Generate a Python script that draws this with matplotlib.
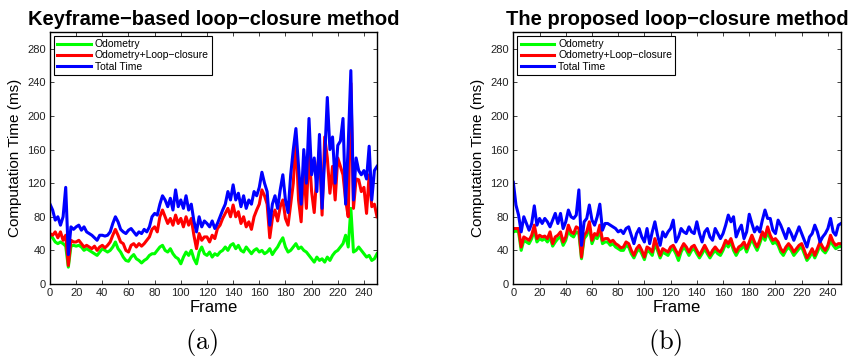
import numpy as np
import matplotlib
matplotlib.use('Agg')
from matplotlib import pyplot as plt

plt.rcParams['font.family'] = ['Liberation Sans', 'DejaVu Sans']
plt.rcParams['mathtext.fontset'] = 'cm'

# frames sampled every 2 frames, 0..250
frames = np.arange(0, 251, 2)

# (a) keyframe-based loop-closure
odo_a = [58, 55, 50, 48, 50, 48, 45, 20, 45, 46,
         45, 46, 44, 40, 42, 40, 38, 36, 34, 38,
         42, 40, 38, 40, 44, 50, 42, 38, 32, 28,
         27, 32, 35, 30, 28, 25, 28, 30, 34, 36,
         36, 40, 44, 46, 40, 38, 42, 36, 32, 30,
         24, 32, 38, 34, 40, 30, 24, 38, 44, 36,
         34, 38, 32, 36, 34, 38, 40, 44, 40, 46,
         48, 42, 46, 40, 38, 44, 40, 36, 40, 42,
         38, 40, 36, 38, 42, 35, 40, 44, 50, 55,
         44, 38, 40, 44, 48, 42, 44, 40, 38, 34,
         30, 26, 32, 28, 30, 26, 32, 28, 34, 38,
         40, 44, 48, 58, 44, 90, 38, 40, 44, 40,
         36, 32, 34, 28, 30, 36]
loop_a = [60, 58, 62, 55, 62, 52, 58, 22, 52, 50,
          50, 52, 48, 44, 46, 44, 42, 45, 40, 44,
          46, 43, 46, 50, 58, 65, 58, 50, 48, 40,
          38, 46, 48, 44, 48, 45, 48, 52, 56, 65,
          68, 62, 80, 88, 80, 72, 78, 70, 82, 72,
          78, 68, 80, 70, 78, 58, 42, 60, 52, 56,
          56, 50, 58, 54, 66, 70, 78, 84, 90, 80,
          94, 80, 86, 72, 80, 68, 74, 65, 80, 88,
          95, 112, 105, 95, 55, 78, 88, 75, 92, 100,
          78, 70, 95, 120, 175, 100, 74, 140, 90, 159,
          110, 85, 130, 160, 82, 175, 150, 108, 140, 100,
          150, 140, 130, 100, 80, 239, 90, 125, 124, 110,
          115, 84, 130, 92, 95, 80]
total_a = [95, 88, 76, 80, 70, 80, 115, 35, 68, 65,
           68, 70, 64, 68, 62, 60, 58, 55, 52, 58,
           58, 57, 58, 62, 72, 80, 74, 65, 62, 60,
           64, 66, 62, 58, 62, 60, 65, 62, 68, 80,
           84, 82, 95, 105, 100, 92, 102, 88, 112, 92,
           100, 90, 105, 88, 95, 75, 62, 80, 68, 75,
           72, 68, 75, 66, 72, 80, 88, 95, 110, 100,
           118, 100, 108, 92, 105, 90, 100, 95, 110, 105,
           115, 133, 120, 110, 70, 95, 105, 90, 112, 130,
           100, 85, 130, 160, 185, 140, 95, 160, 120, 197,
           130, 150, 110, 178, 90, 150, 222, 160, 175, 120,
           165, 170, 197, 95, 166, 254, 100, 150, 135, 130,
           135, 125, 164, 100, 135, 140]

# (b) proposed loop-closure
odo_b = [62, 63, 62, 40, 52, 50, 48, 54, 64, 50,
         54, 52, 54, 50, 56, 45, 50, 54, 56, 46,
         52, 64, 58, 56, 62, 60, 30, 54, 58, 68,
         48, 56, 54, 64, 48, 50, 50, 46, 48, 44,
         42, 40, 40, 46, 44, 36, 31, 38, 42, 36,
         29, 40, 38, 34, 48, 40, 31, 38, 36, 34,
         40, 42, 36, 28, 38, 44, 40, 34, 40, 42,
         36, 31, 36, 42, 36, 31, 36, 40, 36, 34,
         40, 48, 44, 50, 40, 34, 40, 42, 46, 38,
         46, 54, 46, 40, 48, 58, 52, 62, 54, 48,
         50, 46, 38, 34, 40, 44, 40, 34, 38, 42,
         44, 36, 28, 32, 38, 31, 38, 46, 40, 37,
         42, 52, 46, 42, 44, 45]
loop_b = [66, 66, 66, 44, 56, 54, 52, 58, 70, 54,
          58, 56, 57, 54, 62, 48, 56, 58, 62, 50,
          56, 70, 62, 60, 68, 66, 32, 58, 62, 74,
          52, 60, 58, 70, 52, 54, 54, 50, 52, 48,
          46, 43, 44, 50, 48, 40, 34, 42, 46, 40,
          32, 44, 42, 38, 54, 44, 34, 42, 40, 38,
          44, 46, 40, 34, 42, 48, 44, 38, 44, 46,
          40, 34, 40, 46, 40, 34, 40, 44, 40, 38,
          44, 52, 48, 54, 44, 38, 44, 46, 50, 42,
          50, 58, 50, 44, 52, 62, 56, 68, 58, 52,
          54, 50, 42, 38, 44, 48, 44, 38, 42, 46,
          48, 40, 31, 36, 42, 34, 42, 50, 44, 40,
          46, 58, 50, 46, 48, 48]
total_b = [121, 94, 82, 62, 80, 72, 64, 72, 93, 70,
           78, 72, 78, 74, 68, 76, 84, 72, 84, 66,
           74, 88, 80, 78, 82, 112, 46, 74, 78, 94,
           76, 70, 80, 95, 64, 72, 72, 70, 68, 66,
           62, 64, 60, 66, 68, 58, 48, 60, 66, 56,
           50, 66, 48, 62, 74, 58, 46, 62, 56, 62,
           66, 76, 50, 56, 66, 62, 60, 68, 62, 60,
           74, 60, 50, 62, 66, 56, 52, 66, 60, 54,
           60, 70, 82, 74, 80, 56, 64, 70, 54, 62,
           83, 72, 62, 68, 62, 76, 88, 78, 78, 64,
           60, 76, 70, 62, 54, 66, 60, 52, 60, 68,
           60, 52, 44, 56, 60, 70, 62, 50, 56, 60,
           66, 78, 62, 58, 70, 72]

titles = ['Keyframe\u2212based loop\u2212closure method',
          'The proposed loop\u2212closure method']
series_names = ['Odometry', 'Odometry+Loop\u2212closure', 'Total Time']
sub_labels = [r'$(\mathrm{a})$', r'$(\mathrm{b})$']

fig = plt.figure(figsize=(8.52, 3.59), dpi=100)
ax_a = fig.add_axes([0.0587, 0.209, 0.3838, 0.702])
ax_b = fig.add_axes([0.6025, 0.209, 0.3846, 0.702])

data = [(odo_a, loop_a, total_a), (odo_b, loop_b, total_b)]
for ax, (odo, loop, total), title in zip([ax_a, ax_b], data, titles):
    ax.plot(frames, odo, color=(0, 1, 0), lw=2.2, label=series_names[0])
    ax.plot(frames, loop, color=(1, 0, 0), lw=2.2, label=series_names[1])
    ax.plot(frames, total, color=(0, 0, 1), lw=2.2, label=series_names[2])
    ax.set_xlim(0, 250)
    ax.set_ylim(0, 300)
    ax.set_xticks(np.arange(0, 241, 20))
    ax.set_yticks(np.arange(0, 281, 40))
    ax.tick_params(direction='in', top=True, right=True, labelsize=8,
                   length=3, width=0.6, colors='#222222', pad=3)
    for s in ax.spines.values():
        s.set_linewidth(1.0)
    ax.set_xlabel('Frame', fontsize=12, labelpad=1)
    ax.set_ylabel('Computation Time (ms)', fontsize=11, labelpad=4)
    ax.set_title(title, fontsize=14.5, fontweight='bold', pad=5)
    leg = ax.legend(loc='upper left', fontsize=7.5, fancybox=False,
                    edgecolor='black', framealpha=1, handlelength=3.2,
                    borderpad=0.3, labelspacing=0.12, handletextpad=0.4,
                    borderaxespad=0.4)
    leg.get_frame().set_linewidth(0.8)

fig.text(202 / 852, 1 - 342 / 359, sub_labels[0], fontsize=19, ha='center', va='center')
fig.text(665 / 852, 1 - 342 / 359, sub_labels[1], fontsize=19, ha='center', va='center')

fig.savefig('out.png', dpi=100)
